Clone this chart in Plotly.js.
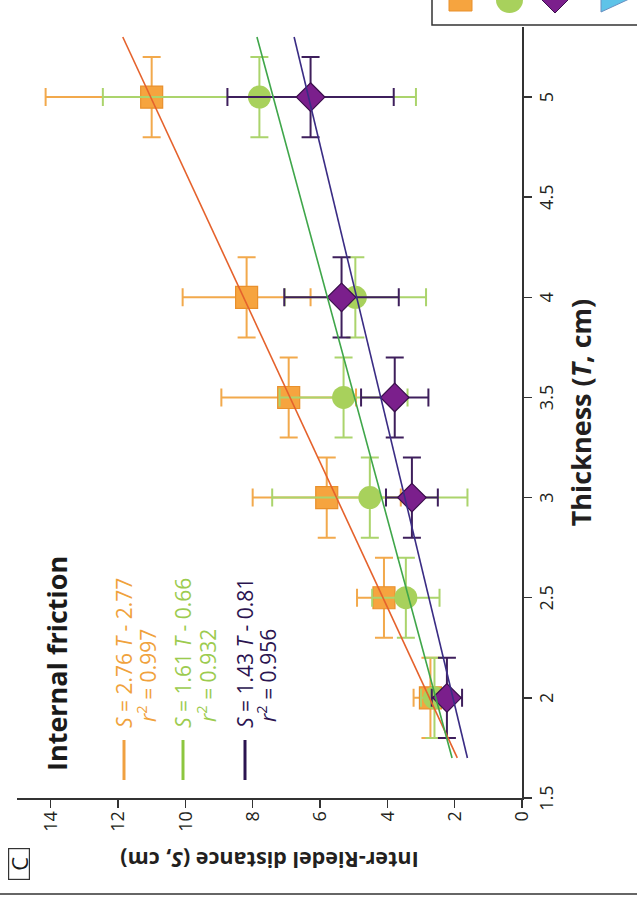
<!DOCTYPE html>
<html>
<head>
<meta charset="utf-8">
<script src="https://cdn.plot.ly/plotly-3.0.1.min.js"></script>
<style>
  html, body { margin:0; padding:0; background:#fff; overflow:hidden; }
  #page { position:absolute; left:0; top:0; width:637px; height:899px; overflow:hidden; }
  #chart { position:absolute; left:0; top:0; width:899px; height:637px;
           transform-origin:0 0; transform: translateY(899px) rotate(-90deg); }
</style>
</head>
<body>
<div id="page"><div id="chart"></div></div>
<script>
// ---- data (thickness T in cm, inter-Riedel distance S in cm) ----
const groupNames = ['orange', 'green', 'purple'];
const T_orange = [2, 2.5, 3, 3.5, 4, 5];
const S_orange = [2.72, 4.1, 5.8, 6.93, 8.18, 11.0];
const Serr_orange = [0.5, 0.8, 2.2, 2.0, 1.9, 3.15];
const Terr_orange = [0.2, 0.2, 0.2, 0.2, 0.2, 0.2];

const T_green = [2, 2.5, 3, 3.5, 4, 5];
const S_green = [2.6, 3.45, 4.52, 5.3, 4.95, 7.8];
const Serr_green = [0.4, 1.0, 2.9, 1.9, 2.1, 4.65];
const Terr_green = [0.2, 0.2, 0.2, 0.2, 0.2, 0.2];

const T_purple = [2, 3, 3.5, 4, 5];
const S_purple = [2.23, 3.27, 3.78, 5.36, 6.28];
const Serr_purple = [0.45, 0.77, 1.0, 1.7, 2.47];
const Terr_purple = [0.2, 0.2, 0.2, 0.2, 0.2];

// fitted regressions S = a T + b
const slopes = [2.76, 1.61, 1.43];
const intercepts = [-2.77, -0.66, -0.81];
const r2 = [0.997, 0.932, 0.956];
const fitRange = [1.7, 5.3];

const xTicks = [1.5, 2, 2.5, 3, 3.5, 4, 4.5, 5];
const yTicks = [0, 2, 4, 6, 8, 10, 12, 14];

// ---- styles ----
const markerCol = ['#f6a43f', '#a8d15c', '#7b1f8c'];
const markerLine = ['#e9902c', '#a8d15c', '#3a0f4c'];
const errCol = ['#f2a94c', '#abd46c', '#3e1f5c'];
const fitCol = ['#e5622c', '#3fa64a', '#3a2c84'];
const legLineCol = ['#f0a040', '#8cc63f', '#2b1450'];
const legTextCol = ['#f0a23c', '#9ccb4f', '#2b1450'];
const symbols = ['square', 'circle', 'diamond'];
const sizes = [22, 23, 22];

const Ts = [T_orange, T_green, T_purple];
const Ss = [S_orange, S_green, S_purple];
const Serrs = [Serr_orange, Serr_green, Serr_purple];
const Terrs = [Terr_orange, Terr_green, Terr_purple];

const traces = [];
for (let i = 0; i < 3; i++) {
  traces.push({
    type: 'scatter', mode: 'markers', name: groupNames[i],
    x: Ts[i], y: Ss[i],
    marker: { symbol: symbols[i], size: sizes[i], color: markerCol[i],
              line: { color: markerLine[i], width: i === 1 ? 0 : 1.2 } },
    error_y: { type: 'data', array: Serrs[i], visible: true, color: errCol[i], thickness: 2, width: 9 },
    error_x: { type: 'data', array: Terrs[i], visible: true, color: errCol[i], thickness: 2, width: 9 },
    showlegend: false, cliponaxis: false
  });
}
for (let i = 0; i < 3; i++) {
  traces.push({
    type: 'scatter', mode: 'lines', name: groupNames[i] + ' fit',
    x: fitRange, y: fitRange.map(t => slopes[i] * t + intercepts[i]),
    line: { color: fitCol[i], width: 1.6 },
    showlegend: false, cliponaxis: false
  });
}

// plot geometry
const L = 101, R = 27, TOP = 17, B = 115, W = 899, H = 637;
const pw = W - L - R, ph = H - TOP - B;
const px = v => (v - L) / pw;            // pixel x -> paper x
const py = v => (H - B - v) / ph;        // pixel y -> paper y

const annotations = [];
const shapes = [];

// legend block "Internal friction"
annotations.push({ xref:'paper', yref:'paper', x: px(126), y: py(57), xanchor:'left', yanchor:'middle',
  text:'<b>Internal friction</b>', showarrow:false, font:{ size:27, color:'#1a1a1a' } });
const rowEq = [124, 183, 245];
const rowR2 = [146, 206, 266];
for (let i = 0; i < 3; i++) {
  shapes.push({ type:'line', xref:'paper', yref:'paper', x0: px(119), x1: px(159), y0: py(rowEq[i]), y1: py(rowEq[i]),
    line:{ color: legLineCol[i], width: 3 } });
  const b = intercepts[i];
  annotations.push({ xref:'paper', yref:'paper', x: px(169), y: py(rowEq[i]), xanchor:'left', yanchor:'middle',
    text: '<i>S</i> = ' + slopes[i].toFixed(2) + ' <i>T</i> ' + (b < 0 ? '- ' : '+ ') + Math.abs(b).toFixed(2),
    showarrow:false, font:{ size:21, color: legTextCol[i] } });
  annotations.push({ xref:'paper', yref:'paper', x: px(175), y: py(rowR2[i]), xanchor:'left', yanchor:'middle',
    text: '<i>r</i><sup>2</sup> = ' + r2[i].toFixed(3),
    showarrow:false, font:{ size:21, color: legTextCol[i] } });
}
// panel label
annotations.push({ xref:'paper', yref:'paper', x: px(19), y: py(8), xanchor:'left', yanchor:'top',
  text:'C', showarrow:false, font:{ size:22, color:'#1a1a1a' }, width: 30, height: 20, align: 'center',
  bordercolor:'#333', borderwidth:1.2, borderpad:0 });

// frame line and cut-off key box of the neighbouring panel
shapes.push({ type:'line', xref:'paper', yref:'paper', x0: px(5), x1: px(5), y0: py(0), y1: py(637),
  line:{ color:'#666', width:2 } });
shapes.push({ type:'rect', xref:'paper', yref:'paper', x0: px(874), x1: px(905), y0: py(432), y1: py(645),
  line:{ color:'#333', width:1.5 }, fillcolor:'rgba(0,0,0,0)' });
// cut-off key markers
shapes.push({ type:'rect', xref:'paper', yref:'paper', x0: px(888), x1: px(910), y0: py(449), y1: py(472),
  line:{ color:'#e9902c', width:1 }, fillcolor:'#f6a43f' });
shapes.push({ type:'circle', xref:'paper', yref:'paper', x0: px(886), x1: px(912), y0: py(496), y1: py(523),
  line:{ color:'#a8d15c', width:0 }, fillcolor:'#a8d15c' });
shapes.push({ type:'path', xref:'paper', yref:'paper',
  path: 'M' + px(886) + ',' + py(555) + ' L' + px(899) + ',' + py(542) + ' L' + px(912) + ',' + py(555) + ' L' + px(899) + ',' + py(568) + ' Z',
  line:{ color:'#3a0f4c', width:1 }, fillcolor:'#7b1f8c' });
shapes.push({ type:'path', xref:'paper', yref:'paper',
  path: 'M' + px(887) + ',' + py(601) + ' L' + px(905) + ',' + py(601) + ' L' + px(905) + ',' + py(640) + ' Z',
  line:{ color:'#6a8fc0', width:1 }, fillcolor:'#5ec3e8' });

const layout = {
  width: W, height: H,
  margin: { l: L, r: R, t: TOP, b: B, pad: 0 },
  paper_bgcolor: '#fff', plot_bgcolor: '#fff',
  font: { family: '"Open Sans", "DejaVu Sans", sans-serif', color: '#231f20' },
  showlegend: false,
  xaxis: {
    range: [1.5, 5.35], tickvals: xTicks, ticks: 'outside', ticklen: 8, tickwidth: 1.5, tickcolor: '#333',
    showline: true, linecolor: '#333', linewidth: 1.5, showgrid: false, zeroline: false,
    tickfont: { size: 18 },
    title: { text: '<b>Thickness (<i>T</i>, cm)</b>', font: { size: 27 }, standoff: 15 },
    automargin: true
  },
  yaxis: {
    range: [0, 15], tickvals: yTicks, ticks: 'outside', ticklen: 8, tickwidth: 1.5, tickcolor: '#333',
    showline: true, linecolor: '#333', linewidth: 1.5, showgrid: false, zeroline: false,
    tickfont: { size: 18 },
    title: { text: '<b>Inter-Riedel distance (<i>S</i>, cm)</b>', font: { size: 21.5 }, standoff: 14 },
    automargin: true
  },
  annotations: annotations,
  shapes: shapes
};

Plotly.newPlot('chart', traces, layout, { staticPlot: true, displayModeBar: false });
</script>
</body>
</html>
